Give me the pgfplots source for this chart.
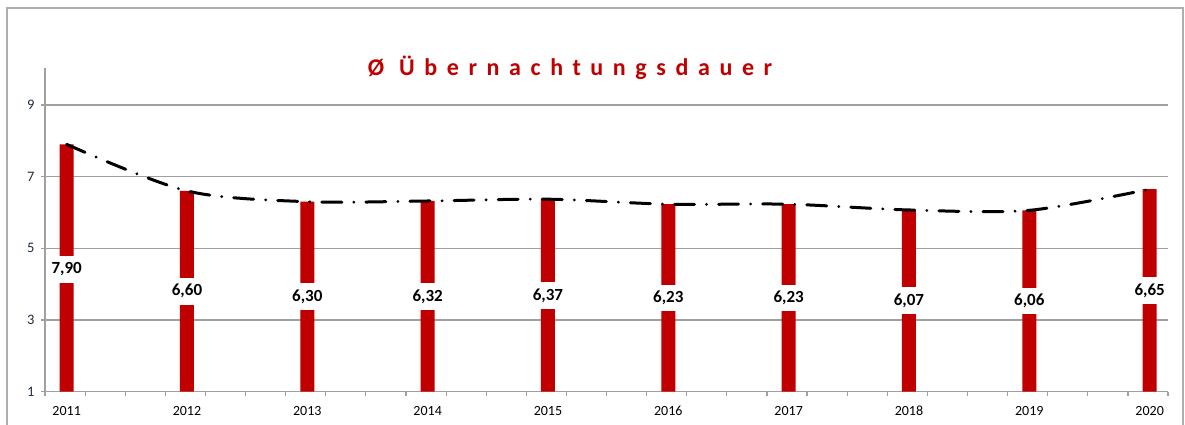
\documentclass[border=0pt]{standalone}
\usepackage{fontspec}
\setmainfont{Carlito}
\usepackage{pgfplots}
\pgfplotsset{compat=1.18}
\definecolor{barred}{HTML}{C00000}
\definecolor{axgray}{HTML}{A0A0A0}
\definecolor{lblblue}{HTML}{1F2A44}
\begin{document}
\begin{tikzpicture}
\useasboundingbox (0,0) rectangle (1185pt,424pt);
\draw[draw=axgray!85, line width=1.5pt] (7pt,-5pt) rectangle (1183pt,416pt);
\node[text=barred, font=\fontsize{24}{28}\selectfont\bfseries\addfontfeature{LetterSpace=40}] at (570pt,356pt) {Ø Übernachtungsdauer};
\begin{axis}[
  at={(45pt,32.3pt)}, anchor=south west,
  scale only axis, width=1123pt, height=323.7pt,
  xmin=-0.18, xmax=9.153, ymin=1, ymax=10.03,
  axis x line=bottom, axis y line=left,
  axis line style={draw=axgray, line width=1.2pt, -},
  ytick={1,3,5,7,9},
  ymajorgrids, grid style={draw=axgray, line width=1.2pt},
  xtick={0,...,9},
  xticklabels={2011,2012,2013,2014,2015,2016,2017,2018,2019,2020},
  minor xtick={-0.18,0.15333,...,9.16},
  tick align=outside, major tick length=4pt, minor tick length=4pt,
  tick style={draw=axgray, line width=1.2pt},
  major x tick style={draw=none},
  /pgf/number format/assume math mode=true,
  yticklabel style={font=\fontsize{14.5}{16}\selectfont, text=lblblue, xshift=-3pt},
  xticklabel style={font=\fontsize{14}{16}\selectfont, text=black, yshift=-7pt},
  clip=false,
]
\addplot[ybar, bar width=14pt, fill=barred, draw=none] coordinates {
  (0,7.90) (1,6.60) (2,6.30) (3,6.32) (4,6.37) (5,6.23) (6,6.23) (7,6.07) (8,6.06) (9,6.65)
};
\addplot[smooth, black, line width=3pt, line cap=round, dash pattern=on 20pt off 12pt on 0.1pt off 12pt] coordinates {
  (0,7.90) (1,6.60) (2,6.30) (3,6.32) (4,6.37) (5,6.23) (6,6.23) (7,6.07) (8,6.06) (9,6.65)
};
\addplot[draw=none, mark=none, point meta=explicit,
  nodes near coords={\pgfmathprintnumber[fixed,fixed zerofill,precision=2,use comma,assume math mode=true]{\pgfplotspointmeta}},
  every node near coord/.append style={fill=white, inner xsep=3pt, inner ysep=6.5pt, font=\fontsize{17}{18}\selectfont\bfseries, text=black, anchor=center}
] coordinates {
  (0,4.41) [7.90] (1,3.80) [6.60] (2,3.65) [6.30] (3,3.66) [6.32] (4,3.685) [6.37]
  (5,3.615) [6.23] (6,3.615) [6.23] (7,3.535) [6.07] (8,3.53) [6.06] (9,3.825) [6.65]
};
\end{axis}
\end{tikzpicture}
\end{document}
